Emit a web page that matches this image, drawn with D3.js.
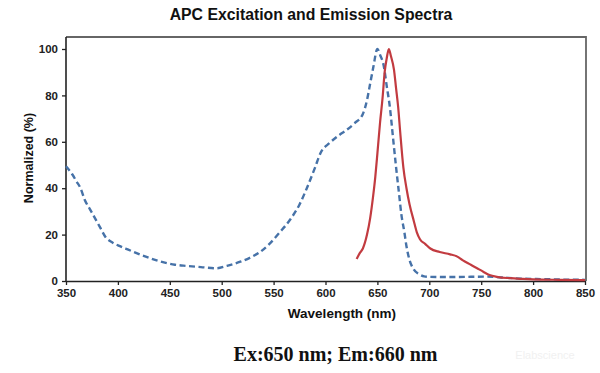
<!DOCTYPE html>
<html><head><meta charset="utf-8">
<script src="https://cdn.jsdelivr.net/npm/d3@7"></script>
<style>body{margin:0;background:#fff}svg{display:block}</style>
</head><body>
<svg id="c" width="600" height="373"></svg>
<script>
const exWave = [350,356,360,364,368,373,378,383,388,395,402,410,418,430,440,455,466,480,495,505,518,527,537,546,556,566,575,582,590,595,604,612,620,628,636,640,643,646,650,653,656,659,662,665,668,671,673,676,678,681,685,690,695,700,720,740,755,770,790,810,830,850];
const exVal  = [49.5,46,43,40,35,31,27,23,19,16.5,15,13.5,12,10,8.5,7,6.5,6,5.5,6.5,8.3,10,12.5,16,21,26.5,33,40,49,55,59.5,62.5,65,68,72,78,85,92,100,97,93,84,75,62,49,37,29,21,15,9,5,3,2,1.8,1.7,1.8,1.9,1.5,1.0,0.8,0.6,0.5];
const emWave = [630,633,636,640,643,646,648,650,652.5,655,657,659,661,663,666,668,670,672,675,678,681,685,688,691,696,701,710,720,727,732,740,746,752,758,765,778,790,800,825,850];
const emVal  = [9.5,12,14,20,27,37,45,55,68,79,90,96,100,97,91,83,75,64,49,40,33,26,21,18,16,14,12.5,11.5,10.5,9,7,5.5,4,2.6,1.8,1.2,0.9,0.7,0.5,0.4];
const xTicks = [350,400,450,500,550,600,650,700,750,800,850];
const yTicks = [0,20,40,60,80,100];
const title = "APC Excitation and Emission Spectra";
const xTitle = "Wavelength (nm)";
const yTitle = "Normalized (%)";
const note = "Ex:650 nm; Em:660 nm";

const svg = d3.select("#c");
const x = d3.scaleLinear().domain([350,850]).range([66,585]);
const y = d3.scaleLinear().domain([0,100]).range([281,49]);
const topY = 37;

// frame top/right
svg.append("path").attr("d",`M${x(350)},${topY}H${x(850)+1}V${y(0)}`)
  .attr("fill","none").attr("stroke","#666").attr("stroke-width",1.8);

const font = "Liberation Sans, Arial, sans-serif";
const xa = svg.append("g").attr("transform",`translate(0,${y(0)})`)
  .call(d3.axisBottom(x).tickValues(xTicks).tickSize(4).tickSizeOuter(0).tickPadding(4));
const ya = svg.append("g").attr("transform",`translate(${x(350)},0)`)
  .call(d3.axisLeft(y).tickValues(yTicks).tickSize(4).tickSizeOuter(0).tickPadding(4));
ya.select(".domain").attr("d",`M0,${topY}V${y(0)}`);
[xa,ya].forEach(a=>{
  a.select(".domain").attr("stroke","#222").attr("stroke-width",1.6);
  a.selectAll(".tick line").attr("stroke","#222").attr("stroke-width",1.3);
  a.selectAll("text").attr("font-family",font).attr("font-weight","bold").attr("font-size",11.5).attr("fill","#222");
});

const line = d3.line().x((d)=>x(d[0])).y((d)=>y(d[1])).curve(d3.curveMonotoneX);
svg.append("path").datum(exWave.map((w,i)=>[w,exVal[i]]))
  .attr("d",line).attr("fill","none").attr("stroke","#4672a8")
  .attr("stroke-width",2.4).attr("stroke-dasharray","6,3.5");
svg.append("path").datum(emWave.map((w,i)=>[w,emVal[i]]))
  .attr("d",line).attr("fill","none").attr("stroke","#c23b40")
  .attr("stroke-width",2.2);

svg.append("text").attr("x",311).attr("y",20).attr("text-anchor","middle")
  .attr("font-family",font).attr("font-weight","bold").attr("font-size",15.8).attr("fill","#111").text(title);
svg.append("text").attr("x",342).attr("y",318).attr("text-anchor","middle")
  .attr("font-family",font).attr("font-weight","bold").attr("font-size",13.5).attr("fill","#111").text(xTitle);
svg.append("text").attr("transform",`translate(32.5,158) rotate(-90)`).attr("text-anchor","middle")
  .attr("font-family",font).attr("font-weight","bold").attr("font-size",12.5).attr("fill","#111").text(yTitle);
svg.append("text").attr("x",335.5).attr("y",361).attr("text-anchor","middle")
  .attr("font-family","Liberation Serif, Times New Roman, serif").attr("font-weight","bold").attr("font-size",20).attr("fill","#111").text(note);
svg.append("text").attr("x",545).attr("y",359).attr("text-anchor","middle")
  .attr("font-family",font).attr("font-size",11).attr("fill","#f1f1f1").text("Elabscience");
</script>
</body></html>
